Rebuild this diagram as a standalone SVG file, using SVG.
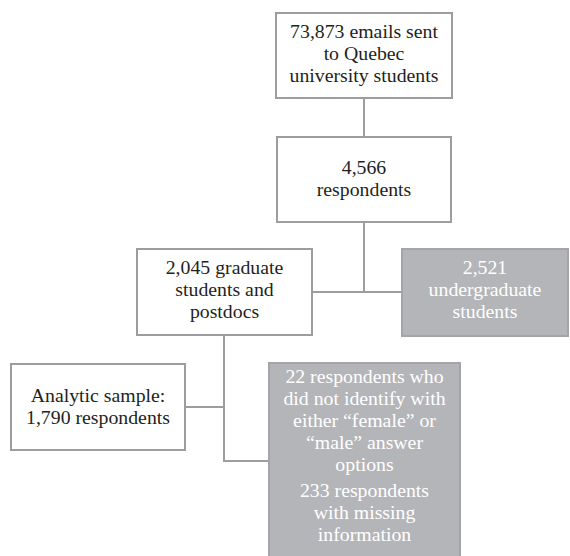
<svg xmlns="http://www.w3.org/2000/svg" width="570" height="556" viewBox="0 0 570 556">
<defs>
<marker id="none" markerWidth="1" markerHeight="1"/>
</defs>
<rect width="570" height="556" fill="#ffffff"/>
<g id="connectors" fill="none" stroke="#9d9d9f" stroke-width="2">
<line x1="364" y1="99" x2="364" y2="136"/>
<line x1="364" y1="223" x2="364" y2="292"/>
<line x1="312" y1="292" x2="401" y2="292"/>
<line x1="224" y1="336" x2="224" y2="461"/>
<line x1="186" y1="407" x2="224" y2="407"/>
<line x1="223" y1="461" x2="269" y2="461"/>
</g>
<g id="emails">
<rect x="276" y="13" width="176" height="85" fill="#ffffff" stroke="#9d9d9f" stroke-width="2"/>
<text x="364" y="38" font-family="'Liberation Serif'" font-size="19.8" text-anchor="middle" fill="#231f20">73,873 emails sent</text>
<text x="364" y="60" font-family="'Liberation Serif'" font-size="19.8" text-anchor="middle" fill="#231f20">to Quebec</text>
<text x="364" y="82" font-family="'Liberation Serif'" font-size="19.8" text-anchor="middle" fill="#231f20">university students</text>
</g>
<g id="respondents">
<rect x="277" y="137" width="174" height="85" fill="#ffffff" stroke="#9d9d9f" stroke-width="2"/>
<text x="364" y="174" font-family="'Liberation Serif'" font-size="19.8" text-anchor="middle" fill="#231f20">4,566</text>
<text x="364" y="196" font-family="'Liberation Serif'" font-size="19.8" text-anchor="middle" fill="#231f20">respondents</text>
</g>
<g id="graduate">
<rect x="137" y="249" width="175" height="86" fill="#ffffff" stroke="#9d9d9f" stroke-width="2"/>
<text x="224.5" y="274" font-family="'Liberation Serif'" font-size="19.8" text-anchor="middle" fill="#231f20">2,045 graduate</text>
<text x="224.5" y="296" font-family="'Liberation Serif'" font-size="19.8" text-anchor="middle" fill="#231f20">students and</text>
<text x="224.5" y="318" font-family="'Liberation Serif'" font-size="19.8" text-anchor="middle" fill="#231f20">postdocs</text>
</g>
<g id="undergraduate">
<rect x="402" y="249" width="166" height="87" fill="#b4b5b8" stroke="#a4a5a8" stroke-width="2"/>
<text x="485" y="274" font-family="'Liberation Serif'" font-size="19.8" text-anchor="middle" fill="#ffffff">2,521</text>
<text x="485" y="296" font-family="'Liberation Serif'" font-size="19.8" text-anchor="middle" fill="#ffffff">undergraduate</text>
<text x="485" y="318" font-family="'Liberation Serif'" font-size="19.8" text-anchor="middle" fill="#ffffff">students</text>
</g>
<g id="analytic">
<rect x="11" y="364" width="174" height="86" fill="#ffffff" stroke="#9d9d9f" stroke-width="2"/>
<text x="98" y="402" font-family="'Liberation Serif'" font-size="19.8" text-anchor="middle" fill="#231f20">Analytic sample:</text>
<text x="98" y="424" font-family="'Liberation Serif'" font-size="19.8" text-anchor="middle" fill="#231f20">1,790 respondents</text>
</g>
<g id="excluded">
<rect x="269" y="363" width="191" height="200" fill="#b4b5b8" stroke="#a4a5a8" stroke-width="2"/>
<text x="364.5" y="383" font-family="'Liberation Serif'" font-size="19.8" text-anchor="middle" fill="#ffffff">22 respondents who</text>
<text x="364.5" y="405" font-family="'Liberation Serif'" font-size="19.8" text-anchor="middle" fill="#ffffff">did not identify with</text>
<text x="364.5" y="427" font-family="'Liberation Serif'" font-size="19.8" text-anchor="middle" fill="#ffffff">either &#8220;female&#8221; or</text>
<text x="364.5" y="449" font-family="'Liberation Serif'" font-size="19.8" text-anchor="middle" fill="#ffffff">&#8220;male&#8221; answer</text>
<text x="364.5" y="471" font-family="'Liberation Serif'" font-size="19.8" text-anchor="middle" fill="#ffffff">options</text>
<text x="364.5" y="497" font-family="'Liberation Serif'" font-size="19.8" text-anchor="middle" fill="#ffffff">233 respondents</text>
<text x="364.5" y="519" font-family="'Liberation Serif'" font-size="19.8" text-anchor="middle" fill="#ffffff">with missing</text>
<text x="364.5" y="541" font-family="'Liberation Serif'" font-size="19.8" text-anchor="middle" fill="#ffffff">information</text>
</g>
</svg>
